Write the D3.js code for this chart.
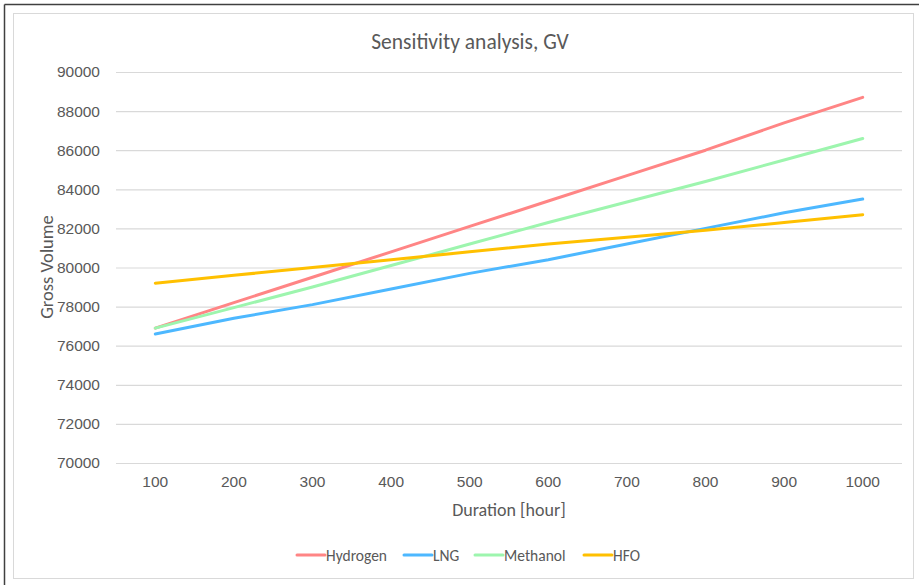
<!DOCTYPE html>
<html>
<head>
<meta charset="utf-8">
<script src="https://cdn.jsdelivr.net/npm/d3@7"></script>
<style>
  html, body { margin: 0; padding: 0; background: #fff; }
  svg { display: block; font-family: Carlito, Calibri, Lato, "Open Sans", sans-serif; }
</style>
</head>
<body>
<svg id="chart" width="919" height="585"></svg>
<script>
const durations = [100, 200, 300, 400, 500, 600, 700, 800, 900, 1000];
const hydrogen = [76900, 78200, 79500, 80800, 82100, 83400, 84700, 86000, 87400, 88700];
const lng      = [76600, 77400, 78100, 78900, 79700, 80400, 81200, 82000, 82800, 83500];
const methanol = [76900, 77950, 79000, 80100, 81200, 82300, 83350, 84400, 85500, 86600];
const hfo      = [79200, 79600, 80000, 80400, 80800, 81200, 81550, 81900, 82300, 82700];
const yTicks = [70000, 72000, 74000, 76000, 78000, 80000, 82000, 84000, 86000, 88000, 90000];
const seriesNames = ["Hydrogen", "LNG", "Methanol", "HFO"];
const seriesColors = ["#FF8585", "#4DB8FF", "#9DF5AE", "#FFC000"];
const seriesValues = [hydrogen, lng, methanol, hfo];

(function () {
const svg = d3.select("#chart");
const textColor = "#595959";

// frames
svg.append("line").attr("x1", 4.5).attr("y1", 4.5).attr("x2", 919).attr("y2", 4.5).attr("stroke", "#404040").attr("stroke-width", 1.5);
svg.append("line").attr("x1", 4.5).attr("y1", 4.5).attr("x2", 4.5).attr("y2", 585).attr("stroke", "#404040").attr("stroke-width", 1.5);
svg.append("rect").attr("x", 13.5).attr("y", 13.5).attr("width", 900).attr("height", 565)
  .attr("fill", "#fff").attr("stroke", "#D9D9D9").attr("stroke-width", 1);

const pLeft = 116, pRight = 902, pTop = 72, pBottom = 463;

const x = d3.scaleBand().domain(durations).range([pLeft, pRight]);
const y = d3.scaleLinear().domain([70000, 90000]).range([pBottom, pTop]);

// gridlines
const yAxis = d3.axisLeft(y).tickValues(yTicks).tickSize(-(pRight - pLeft)).tickPadding(16).tickFormat(d3.format("d"));
const gy = svg.append("g").attr("transform", `translate(${pLeft},0)`).call(yAxis);
gy.select(".domain").remove();
gy.selectAll(".tick line").attr("stroke", "#D9D9D9").attr("stroke-width", 1.2);
gy.selectAll(".tick text").attr("fill", textColor).attr("font-size", 15.5).attr("font-family", null);

const xAxis = d3.axisBottom(x).tickSize(0).tickPadding(13);
const gx = svg.append("g").attr("transform", `translate(0,${pBottom})`).call(xAxis);
gx.select(".domain").remove();
gx.selectAll(".tick text").attr("fill", textColor).attr("font-size", 15.5).attr("font-family", null);

// lines
const line = d3.line().x((d, i) => x(durations[i]) + x.bandwidth() / 2).y(d => y(d));
seriesValues.forEach((vals, k) => {
  svg.append("path").datum(vals).attr("d", line)
    .attr("fill", "none").attr("stroke", seriesColors[k]).attr("stroke-width", 3)
    .attr("stroke-linecap", "round").attr("stroke-linejoin", "round");
});

// title
svg.append("text").attr("x", 470).attr("y", 49).attr("text-anchor", "middle")
  .attr("fill", textColor).attr("font-size", 21.5).text("Sensitivity analysis, GV");

// axis titles
svg.append("text").attr("x", 509).attr("y", 516).attr("text-anchor", "middle")
  .attr("fill", textColor).attr("font-size", 18).text("Duration [hour]");
svg.append("text").attr("transform", "translate(53,267) rotate(-90)").attr("text-anchor", "middle")
  .attr("fill", textColor).attr("font-size", 18.5).text("Gross Volume");

// legend
const legendX = [297, 404, 475, 584];
const lg = svg.append("g");
seriesNames.forEach((name, k) => {
  const g = lg.append("g").attr("transform", `translate(${legendX[k]},555)`);
  g.append("line").attr("x1", 0).attr("x2", 28).attr("y1", 0).attr("y2", 0)
    .attr("stroke", seriesColors[k]).attr("stroke-width", 3).attr("stroke-linecap", "round");
  g.append("text").attr("x", 29).attr("y", 5.5).attr("fill", textColor).attr("font-size", 15.5).text(name);
});
})();
</script>
</body>
</html>
